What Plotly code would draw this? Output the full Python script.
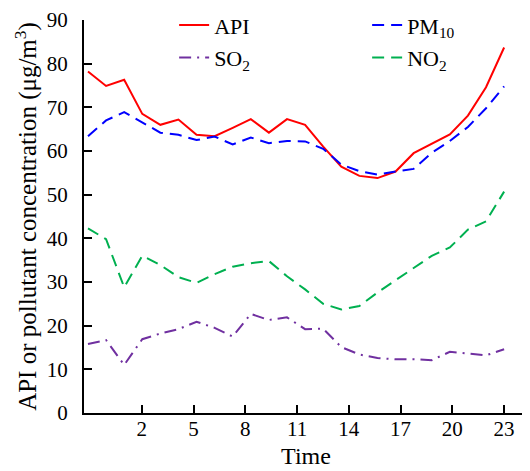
import plotly.graph_objects as go

# Hour index of each observation (0..23)
hours = list(range(24))

api = [78.2, 74.9, 76.3, 68.5, 66.0, 67.2, 63.7, 63.4, 65.3, 67.3, 64.2, 67.3,
       66.0, 61.0, 56.4, 54.3, 53.8, 55.3, 59.5, 61.6, 63.8, 68.1, 74.6, 83.7]
pm10 = [63.4, 67.0, 68.9, 66.5, 64.2, 63.7, 62.5, 63.3, 61.5, 63.1, 61.8, 62.3,
        62.2, 60.5, 56.9, 55.4, 54.6, 55.3, 55.9, 59.6, 62.3, 65.5, 69.8, 74.8]
so2 = [15.8, 16.7, 11.0, 16.9, 18.2, 19.2, 20.9, 19.5, 17.5, 22.7, 21.3, 21.9,
       19.2, 19.3, 15.1, 13.4, 12.6, 12.3, 12.3, 12.1, 14.0, 13.6, 13.2, 14.6]
no2 = [42.3, 39.8, 28.8, 36.0, 33.9, 31.1, 29.8, 31.8, 33.5, 34.3, 34.8, 31.3,
       28.3, 25.0, 23.7, 24.5, 27.6, 30.5, 33.2, 36.0, 37.9, 42.0, 43.9, 50.7]

tick_labels = ["2", "5", "8", "11", "14", "17", "20", "23"]
y_ticks = [0, 10, 20, 30, 40, 50, 60, 70, 80, 90]

# tick labels are spaced slightly tighter than the samples (aligned at the last hour)
tick_scale = 0.9536
tick_pos = [23 - (23 - int(t)) * tick_scale for t in tick_labels]

FONT = "Liberation Serif"

fig = go.Figure()
fig.add_trace(go.Scatter(x=hours, y=api, name="API", mode="lines",
                         line=dict(color="#ff0000", width=2), legend="legend"))
fig.add_trace(go.Scatter(x=hours, y=pm10, name="PM<sub>10</sub>", mode="lines",
                         line=dict(color="#0000ff", width=2, dash="12px,7px"), legend="legend"))
fig.add_trace(go.Scatter(x=hours, y=so2, name="SO<sub>2</sub>", mode="lines",
                         line=dict(color="#7030a0", width=2, dash="12px,6px,2px,6px"), legend="legend2"))
fig.add_trace(go.Scatter(x=hours, y=no2, name="NO<sub>2</sub>", mode="lines",
                         line=dict(color="#00b050", width=2, dash="12px,7px"), legend="legend2"))

legend_common = dict(orientation="h", xanchor="left", yanchor="middle",
                     bgcolor="rgba(0,0,0,0)",
                     font=dict(family=FONT, size=22, color="black"),
                     entrywidth=148, entrywidthmode="pixels", traceorder="normal")

fig.update_layout(
    width=530, height=471,
    margin=dict(l=76, r=10, t=12, b=66, autoexpand=False),
    paper_bgcolor="white", plot_bgcolor="white",
    font=dict(family=FONT, size=21, color="black"),
    showlegend=True,
    legend=dict(x=0.203, y=0.987, **legend_common),
    legend2=dict(x=0.203, y=0.904, **legend_common),
    xaxis=dict(range=[-0.22, 24.32], tickvals=tick_pos, ticktext=tick_labels,
               ticks="inside", ticklen=8, tickwidth=2, tickcolor="black",
               showline=True, linecolor="black", linewidth=2, showgrid=False,
               zeroline=False, automargin=False, tickfont=dict(family=FONT, size=21),
               ticklabelstandoff=-4,
               title=dict(text="Time", font=dict(family=FONT, size=24), standoff=7)),
    yaxis=dict(range=[0, 90], tickvals=y_ticks,
               ticks="inside", ticklen=8, tickwidth=2, tickcolor="black",
               showline=True, linecolor="black", linewidth=2, showgrid=False,
               zeroline=False, automargin=False, tickfont=dict(family=FONT, size=21),
               ticklabelstandoff=10,
               title=dict(text="API or pollutant concentration (μg/m<sup>3</sup>)",
                          font=dict(family=FONT, size=25), standoff=3)),
)

fig.write_html("out.html")
